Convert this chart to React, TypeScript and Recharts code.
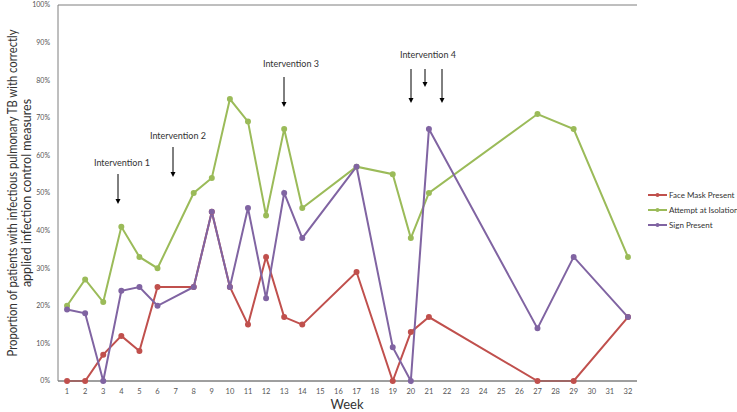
import React from "react";
import { LineChart, Line, XAxis, YAxis, CartesianGrid } from "recharts";

const weeks: number[] = Array.from({ length: 32 }, (_, i) => i + 1);
const dataWeeks: number[] = [1, 2, 3, 4, 5, 6, 8, 9, 10, 11, 12, 13, 14, 17, 19, 20, 21, 27, 29, 32];
const faceMask: number[] = [0, 0, 7, 12, 8, 25, 25, 45, 25, 15, 33, 17, 15, 29, 0, 13, 17, 0, 0, 17];
const isolation: number[] = [20, 27, 21, 41, 33, 30, 50, 54, 75, 69, 44, 67, 46, 57, 55, 38, 50, 71, 67, 33];
const signPresent: number[] = [19, 18, 0, 24, 25, 20, 25, 45, 25, 46, 22, 50, 38, 57, 9, 0, 67, 14, 33, 17];
const yTicks: number[] = [0, 10, 20, 30, 40, 50, 60, 70, 80, 90, 100];

const seriesNames = ["Face Mask Present", "Attempt at Isolation", "Sign Present"];
const colors = ["#C0504D", "#9BBB59", "#8064A2"];

const data = weeks.map((w) => {
  const idx = dataWeeks.indexOf(w);
  return {
    week: String(w),
    fm: idx >= 0 ? faceMask[idx] : null,
    iso: idx >= 0 ? isolation[idx] : null,
    sign: idx >= 0 ? signPresent[idx] : null,
  };
});

const FONT = "Lato, 'Open Sans', 'Liberation Sans', sans-serif";

const Arrow = ({ x, y1, y2 }: { x: number; y1: number; y2: number }) => (
  <g>
    <line x1={x} y1={y1} x2={x} y2={y2 - 4} stroke="#000" strokeWidth={1} />
    <polygon points={`${x - 2.5},${y2 - 5} ${x + 2.5},${y2 - 5} ${x},${y2}`} fill="#000" />
  </g>
);

export default function App() {
  return (
    <div style={{ position: "absolute", left: 0, top: 0, width: 737, height: 412, background: "#fff" }}>
      <LineChart
        width={737}
        height={412}
        data={data}
        margin={{ top: 5, right: 100, bottom: 1, left: 0 }}
      >
        <CartesianGrid vertical={false} stroke="#7f7f7f" strokeWidth={1} />
        <XAxis
          dataKey="week"
          scale="band"
          height={30}
          tickLine={false}
          axisLine={{ stroke: "#7f7f7f" }}
          tick={{ fontSize: 7.5, fill: "#555", fontFamily: FONT }}
          interval={0}
        />
        <YAxis
          yAxisId="l"
          width={58}
          domain={[0, 100]}
          ticks={yTicks}
          tickFormatter={(v: number) => `${v}%`}
          tickLine={false}
          axisLine={{ stroke: "#7f7f7f" }}
          tick={{ fontSize: 7, fill: "#555", fontFamily: FONT }}
        />
        <YAxis
          yAxisId="r"
          orientation="right"
          width={0}
          domain={[0, 100]}
          tick={false}
          tickLine={false}
          axisLine={{ stroke: "#7f7f7f" }}
        />
        <Line yAxisId="l" name={seriesNames[0]} dataKey="fm" stroke={colors[0]} strokeWidth={2} connectNulls isAnimationActive={false} dot={{ r: 2, fill: colors[0], stroke: colors[0] }} />
        <Line yAxisId="l" name={seriesNames[1]} dataKey="iso" stroke={colors[1]} strokeWidth={2} connectNulls isAnimationActive={false} dot={{ r: 2, fill: colors[1], stroke: colors[1] }} />
        <Line yAxisId="l" name={seriesNames[2]} dataKey="sign" stroke={colors[2]} strokeWidth={2} connectNulls isAnimationActive={false} dot={{ r: 2, fill: colors[2], stroke: colors[2] }} />
      </LineChart>
      <div style={{ position: "absolute", left: 648, top: 187, fontFamily: FONT, fontSize: 8, color: "#333" }}>
        {seriesNames.map((n, i) => (
          <div key={n} style={{ display: "flex", alignItems: "center", height: 15, whiteSpace: "nowrap" }}>
            <svg width={20} height={8}>
              <line x1={0} y1={4} x2={19} y2={4} stroke={colors[i]} strokeWidth={2} />
              <circle cx={9.5} cy={4} r={2} fill={colors[i]} />
            </svg>
            <span style={{ marginLeft: 1 }}>{n}</span>
          </div>
        ))}
      </div>
      <svg
        width={737}
        height={412}
        style={{ position: "absolute", left: 0, top: 0, pointerEvents: "none" }}
        fontFamily={FONT}
      >
        <text x={122} y={166} fontSize={9} textAnchor="middle" fill="#333">Intervention 1</text>
        <Arrow x={118} y1={174} y2={204} />
        <text x={178} y={139} fontSize={9} textAnchor="middle" fill="#333">Intervention 2</text>
        <Arrow x={173} y1={147} y2={177} />
        <text x={291} y={67} fontSize={9} textAnchor="middle" fill="#333">Intervention 3</text>
        <Arrow x={284} y1={77} y2={107} />
        <text x={428} y={58} fontSize={9} textAnchor="middle" fill="#333">Intervention 4</text>
        <Arrow x={411} y1={69} y2={103} />
        <Arrow x={425} y1={69} y2={87} />
        <Arrow x={442} y1={69} y2={103} />
        <text
          transform="translate(17,193) rotate(-90)"
          fontSize={12.5}
          textAnchor="middle"
          fill="#333"
          textLength={327}
          lengthAdjust="spacingAndGlyphs"
        >
          Proportion of patients with infectious pulmonary TB with correctly
        </text>
        <text
          transform="translate(31,193) rotate(-90)"
          fontSize={12.5}
          textAnchor="middle"
          fill="#333"
        >
          applied infection control measures
        </text>
        <text x={347} y={409} fontSize={13} textAnchor="middle" fill="#333">Week</text>
      </svg>
    </div>
  );
}
